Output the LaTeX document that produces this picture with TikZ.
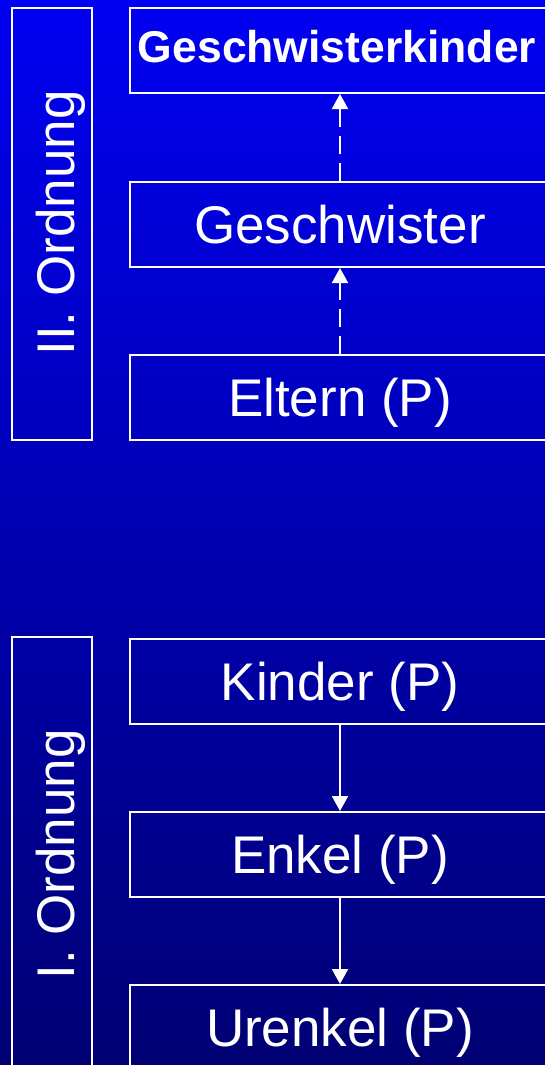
\documentclass[tikz,border=0pt]{standalone}
\usepackage{fontspec}
\setmainfont{Liberation Sans}
\usetikzlibrary{arrows.meta}
\definecolor{bgtop}{RGB}{0,0,242}
\definecolor{bgbot}{RGB}{0,0,115}
\begin{document}
\begin{tikzpicture}[x=1pt,y=-1pt,
  box/.style={draw=white, line width=2pt, minimum width=420pt, minimum height=85pt,
    inner sep=0pt, text=white, font=\fontsize{53}{53}\selectfont,
    text height=37.9pt, text depth=0pt},
  boldlabel/.style={inner sep=0pt, text=white, font=\fontsize{44.5}{44.5}\selectfont\bfseries,
    text height=31.9pt, text depth=0pt},
  sidebox/.style={draw=white, line width=2pt, minimum width=80pt, inner sep=0pt},
  vlabel/.style={rotate=90, inner sep=0pt, text=white, font=\fontsize{53}{53}\selectfont,
    text height=37.9pt, text depth=0pt},
  link/.style={draw=white, line width=2pt, -{Triangle[length=15pt,width=16pt]}},
  dashedlink/.style={link, dash pattern=on 18pt off 9pt}]
\useasboundingbox (0,0) rectangle (545,1065);
\clip (0,0) rectangle (545,1065);
\shade[top color=bgtop, bottom color=bgbot] (0,0) rectangle (545,1065);
% left order boxes
\node[sidebox, minimum height=432pt] (o2) at (52,224) {};
\node[vlabel] (t2) at (56,223) {II. Ordnung};
\node[sidebox, minimum height=435pt] (o1) at (52,854.5) {};
\node[vlabel] (t1) at (56,854.5) {I. Ordnung};
% right boxes
\node[box] (gk) at (340,50.5) {};
\node[boldlabel] (gkt) at (337,47) {Geschwisterkinder};
\node[box] (gw) at (340,224.5) {Geschwister};
\node[box] (el) at (340,397.5) {Eltern (P)};
\node[box] (ki) at (340,681.5) {Kinder (P)};
\node[box] (en) at (340,854.5) {Enkel (P)};
\node[box] (ur) at (340,1027.5) {Urenkel (P)};
% connectors
\draw[dashedlink] (el.north) -- (gw.south);
\draw[dashedlink] (gw.north) -- (gk.south);
\draw[link] (ki.south) -- (en.north);
\draw[link] (en.south) -- (ur.north);
\end{tikzpicture}
\end{document}
